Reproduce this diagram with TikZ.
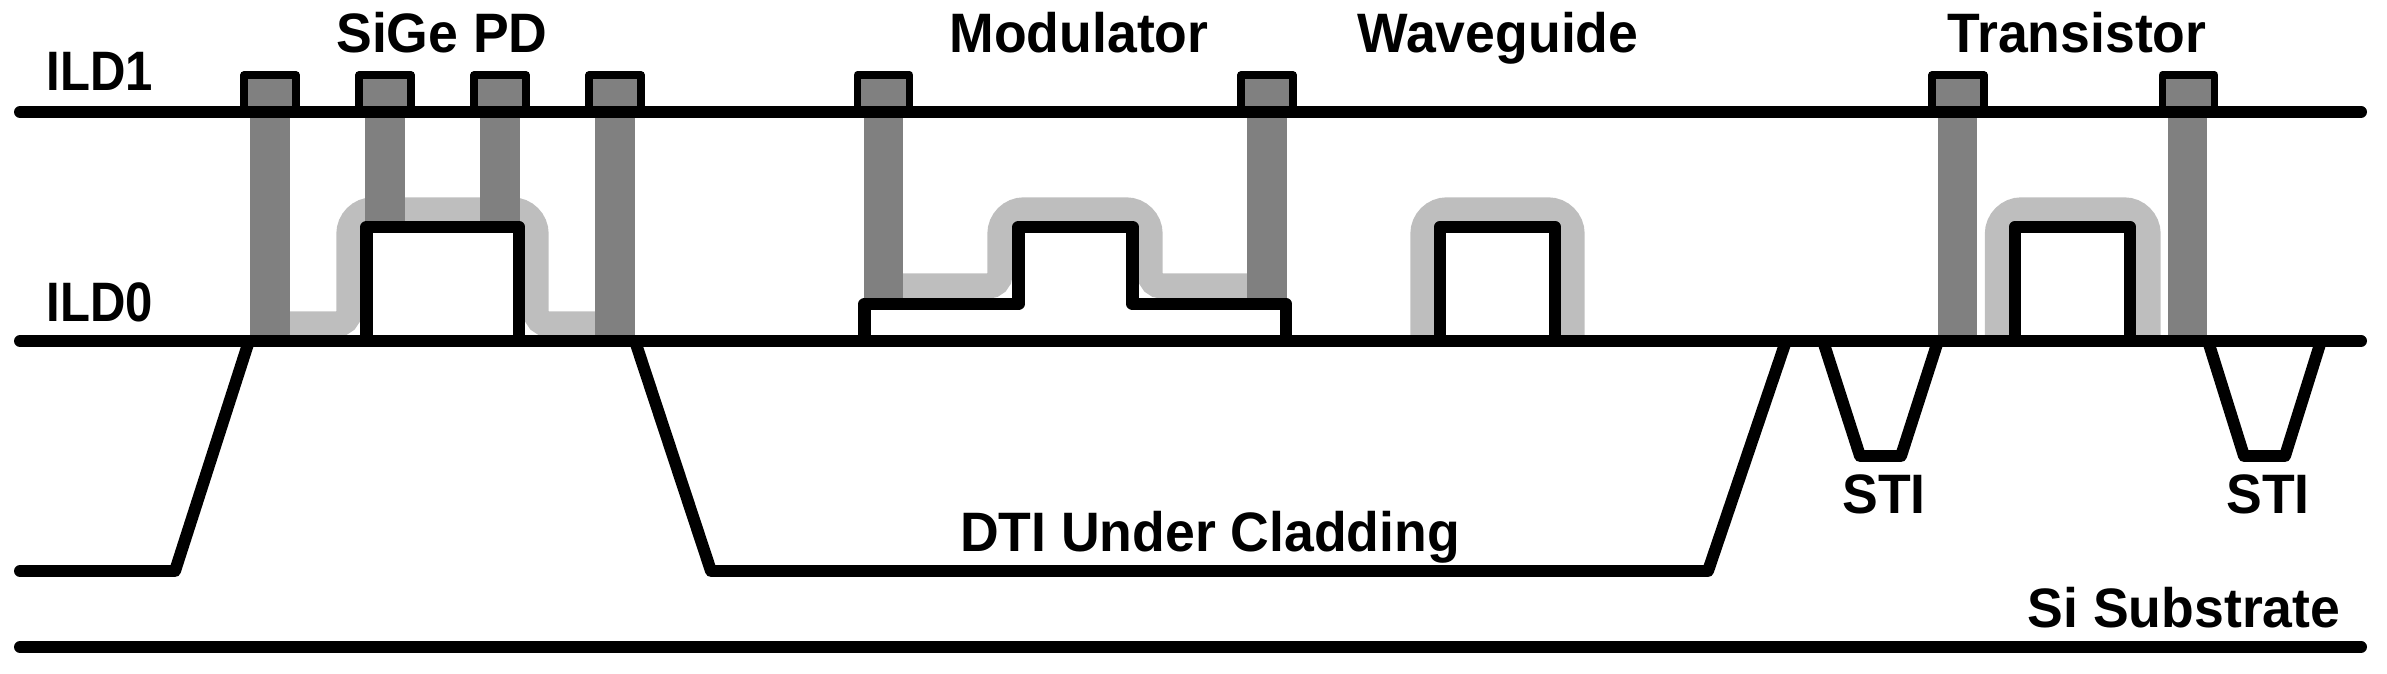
\documentclass[tikz,border=0pt]{standalone}
\usepackage{fontspec}
\setmainfont{Liberation Sans}[FakeStretch=0.964]
\newfontfamily\ildfont{Liberation Sans}[FakeStretch=0.883]
\usepackage{xcolor}
\definecolor{viagray}{HTML}{808080}
\definecolor{linergray}{HTML}{BEBEBE}
\tikzset{every node/.append style={font=\fontsize{15.8}{18}\selectfont\bfseries, inner sep=0pt}}
\tikzset{
  wire/.style={line width=3.4pt, line join=round, line cap=round},
  mesa/.style={line width=3.5pt, line join=round},
  liner/.style={linergray, line width=7.2pt},
  via/.style={fill=viagray},
  contact/.style={fill=viagray, draw=black, line width=2.1pt, line join=round},
}
\begin{document}
\begin{tikzpicture}[x=0.01cm, y=-0.01cm]
    \useasboundingbox (0,0) rectangle (2387,674);
    % liners
    \draw[liner] (290,324) [rounded corners=3.4pt] -- (349,324) [rounded corners=6.8pt] -- (349,210) -- (536,210) [rounded corners=3.4pt] -- (536,324) -- (595,324);
    \draw[liner] (903,286) [rounded corners=3.4pt] -- (1000,286) [rounded corners=6.8pt] -- (1000,210) -- (1150,210) [rounded corners=3.4pt] -- (1150,286) -- (1247,286);
    \draw[liner, rounded corners=6.8pt] (1423,347) -- (1423,210) -- (1572,210) -- (1572,347);
    \draw[liner, rounded corners=6.8pt] (1997.5,347) -- (1997.5,210) -- (2148,210) -- (2148,347);
    % vias
    \fill[via] (250,112) rectangle (290,341);
    \fill[via] (365,112) rectangle (405,225);
    \fill[via] (480,112) rectangle (520,225);
    \fill[via] (595,112) rectangle (635,341);
    \fill[via] (864,112) rectangle (903,304);
    \fill[via] (1247,112) rectangle (1287,304);
    \fill[via] (1938,112) rectangle (1977,341);
    \fill[via] (2168,112) rectangle (2207,341);
    % contacts
    \foreach \padx in {270,385,500,615,883.5,1267,1958,2188.5} {
        \draw[contact] (\padx-26,112) -- (\padx-26,75) -- (\padx+26,75) -- (\padx+26,112);
    }
    % mesas
    \draw[mesa] (366.5,341) -- (366.5,227) -- (519,227) -- (519,341);
    \draw[mesa] (864.5,341) -- (864.5,304) -- (1018.5,304) -- (1018.5,227) -- (1132.5,227) -- (1132.5,304) -- (1286,304) -- (1286,341);
    \draw[mesa] (1440,341) -- (1440,227) -- (1555,227) -- (1555,341);
    \draw[mesa] (2015,341) -- (2015,227) -- (2130,227) -- (2130,341);
    % trenches
    \draw[wire] (20,571) -- (175,571) -- (249,341);
    \draw[wire] (635,341) -- (711,571) -- (1708,571) -- (1786,341);
    \draw[wire] (1823,341) -- (1860,456) -- (1901,456) -- (1938,341);
    \draw[wire] (2208,341) -- (2244,456) -- (2285,456) -- (2321,341);
    % levels
    \draw[wire] (20,112) -- (2361,112);
    \draw[wire] (20,341) -- (2361,341);
    \draw[wire] (20,647) -- (2361,647);
    % labels
    \node[anchor=base west, font=\fontsize{15.8}{18}\selectfont\ildfont\bfseries] (ildone) at (46,91) {ILD1};
    \node[anchor=base west, font=\fontsize{15.8}{18}\selectfont\ildfont\bfseries] (ildzero) at (46,322) {ILD0};
    \node[anchor=base] (sige) at (442,53) {SiGe PD};
    \node[anchor=base] (modulator) at (1079,53) {Modulator};
    \node[anchor=base] (waveguide) at (1498,53) {Waveguide};
    \node[anchor=base] (transistor) at (2077,53) {Transistor};
    \node[anchor=base] (stileft) at (1884,514) {STI};
    \node[anchor=base] (stiright) at (2268,514) {STI};
    \node[anchor=base] (dti) at (1210,552) {DTI Under Cladding};
    \node[anchor=base east] (substrate) at (2341,628) {Si Substrate};
\end{tikzpicture}
\end{document}
